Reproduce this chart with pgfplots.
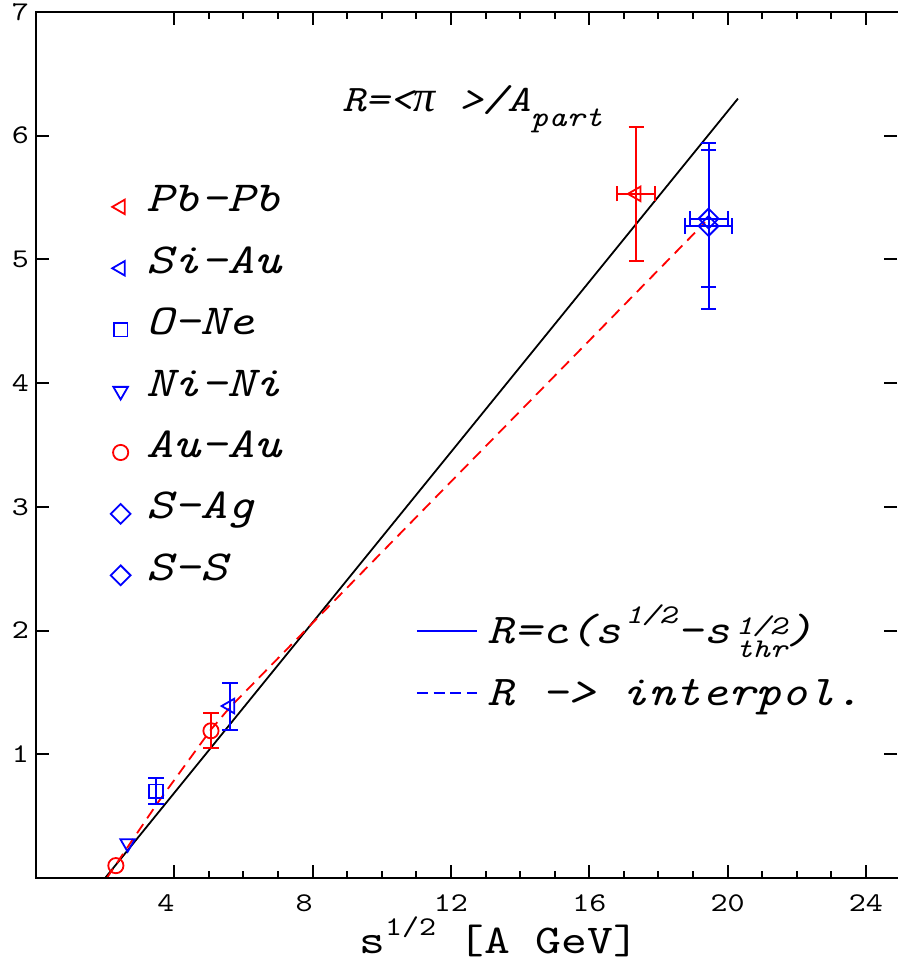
\documentclass[border=0pt]{standalone}
\usepackage{fontspec}
\setmainfont{lmmono10-regular}[Extension=.otf, ItalicFont=lmmono10-italic, FakeStretch=1.2]
\newfontfamily\grk{Liberation Serif}
\usepackage{pgfplots}
\pgfplotsset{compat=1.18}

\definecolor{dred}{RGB}{255,0,0}
\definecolor{dblue}{RGB}{0,0,255}

\newcommand\fs[1]{\fontsize{#1}{#1}\selectfont}
\newcommand\raised[3]{\raisebox{#1}{\fs{#2}#3}}

\begin{document}
\begin{tikzpicture}
\begin{axis}[
  name=main,
  scale only axis, width=430.5pt, height=433pt,
  xmin=0, xmax=24.9, ymin=0, ymax=7,
  xtick={4,8,...,24},
  xticklabels={{4\phantom{0}},{8\phantom{0}},12,16,20,24},
  minor x tick num=3,
  ytick={1,...,7},
  /pgf/number format/assume math mode=true,
  tick label style={font=\fs{13.5}},
  xticklabel style={yshift=-5pt},
  major tick length=6.5pt, minor tick length=3.5pt,
  tick style={black, line width=1pt},
  axis line style={draw=none},
  xlabel={s\raised{9pt}{13.5}{1/2}\hspace{11pt}[A GeV]},
  xlabel style={font=\fs{20.5}, at={(rel axis cs:0.538,0)}, anchor=base, yshift=-37.5pt, inner sep=0pt},
  legend style={draw=none, fill=none, at={(axis cs:2.15,5.63)}, anchor=north west,
    inner sep=0pt, column sep=8pt, row sep=12.7pt, font=\fs{21.4}\itshape,
    nodes={inner sep=0pt, text height=15pt, text depth=3pt}},
  legend cell align=left,
  legend image post style={yshift=-3.5pt},
  error bars/error bar style={line width=1pt, solid},
  error bars/error mark options={rotate=90, mark size=3.8pt, line width=1pt},
]
% fit and interpolation
\addplot[black, line width=0.9pt, forget plot] coordinates {(2.0,0) (20.3,6.30)};
\addplot[dred, line width=0.9pt, dash pattern=on 5.5pt off 3.5pt, forget plot]
  coordinates {(2.05,0) (2.65,0.25) (3.5,0.60) (5.06,1.20) (5.61,1.38) (19.35,5.30)};

% data points
\addplot[dred, only marks, mark=triangle, mark size=4.2pt, mark options={rotate=90, line width=0.9pt},
  error bars/.cd, x dir=both, x explicit, y dir=both, y explicit]
  coordinates {(17.36,5.53) +- (0.55,0.54)};
\addlegendentry{Pb-Pb}
\addplot[dblue, only marks, mark=triangle, mark size=4.2pt, mark options={rotate=90, line width=0.9pt},
  error bars/.cd, y dir=both, y explicit]
  coordinates {(5.61,1.39) +- (0,0.19)};
\addlegendentry{Si-Au}
\addplot[dblue, only marks, mark=square, mark size=3.4pt, mark options={line width=0.9pt},
  error bars/.cd, y dir=both, y explicit]
  coordinates {(3.47,0.70) +- (0,0.105)};
\addlegendentry{O-Ne}
\addplot[dblue, only marks, mark=triangle, mark size=4.2pt, mark options={rotate=180, line width=0.9pt}]
  coordinates {(2.65,0.28)};
\addlegendentry{Ni-Ni}
\addplot[dred, only marks, mark=o, mark size=3.8pt, mark options={line width=0.9pt},
  error bars/.cd, y dir=both, y explicit]
  coordinates {(5.06,1.19) +- (0,0.14)};
\addlegendentry{Au-Au}
\addplot[dblue, only marks, mark=square, mark size=3.5pt, mark options={rotate=45, line width=0.9pt},
  error bars/.cd, x dir=both, x explicit, y dir=both, y explicit]
  coordinates {(19.45,5.33) +- (0.55,0.555)};
\addlegendentry{S-Ag}
\addplot[dblue, only marks, mark=square, mark size=3.5pt, mark options={rotate=45, line width=0.9pt},
  error bars/.cd, x dir=both, x explicit, y dir=both, y explicit]
  coordinates {(19.45,5.27) +- (0.67,0.67)};
\addlegendentry{S-S}
\addplot[dred, only marks, mark=o, mark size=3.8pt, mark options={line width=0.9pt}, forget plot]
  coordinates {(2.31,0.10)};

\node[anchor=base west, font=\fs{18.7}\itshape, inner sep=0pt] at (axis cs:8.84,6.195)
  {R=<\makebox[0.63em][c]{\grk\itshape\fs{22}π} >/A\raised{-7.5pt}{14.3}{part}};
\end{axis}

\begin{axis}[
  at={(main.south west)}, anchor=south west,
  scale only axis, width=430.5pt, height=433pt,
  xmin=0, xmax=24.9, ymin=0, ymax=7,
  hide axis,
  legend style={draw=none, fill=none, at={(axis cs:10.98,2.183)}, anchor=north west,
    inner sep=0pt, column sep=5pt, row sep=6.5pt, font=\fs{21.2}\itshape,
    nodes={inner sep=0pt, text height=17.5pt, text depth=7pt}},
  legend cell align=left,
  legend image code/.code={\draw[#1] (0pt,1pt) -- (30pt,1pt);},
]
\addlegendimage{dblue, line width=0.9pt}
\addlegendentry{R=c(s\hspace{2pt}\raised{10pt}{13.5}{1/2}-s\hspace{3pt}\raised{-7pt}{13.5}{\begin{tabular}[b]{@{}l@{}}1/2\\[-2pt]thr\end{tabular}})}
\addlegendimage{dblue, line width=0.9pt, dash pattern=on 5.5pt off 2.8pt}
\addlegendentry{R -> interpol.}
\end{axis}

\draw[line width=1.3pt, line cap=rect, line join=miter]
  (main.north east) -- (main.north west) -- (main.south west) -- (main.south east);
\pgfresetboundingbox
\path ([xshift=-18pt,yshift=-44pt]main.south west) rectangle ([yshift=6pt]main.north east);
\end{tikzpicture}
\end{document}
